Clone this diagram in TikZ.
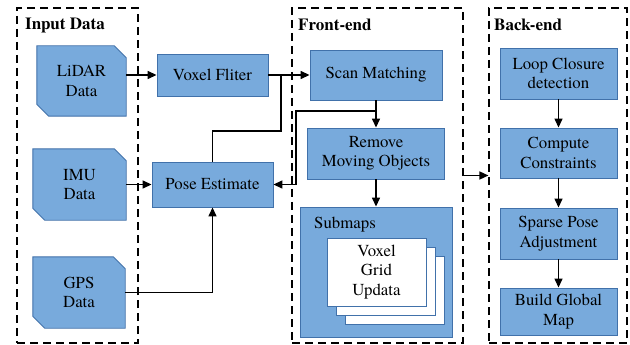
\documentclass[tikz,border=0pt]{standalone}
\usepackage{fontspec}
\setmainfont{texgyretermes}[Extension=.otf, UprightFont=*-regular, BoldFont=*-bold, ItalicFont=*-italic, BoldItalicFont=*-bolditalic]
\usetikzlibrary{arrows.meta}
\definecolor{boxfill}{RGB}{120,170,220}
\definecolor{boxline}{RGB}{65,113,170}
\begin{document}
\begin{tikzpicture}[x=1pt,y=-1pt,
  every node/.style={font=\fontsize{16.8}{19.5}\selectfont, align=center, inner sep=0pt},
  frame/.style={draw, dashed, dash pattern=on 8pt off 5pt, line width=1.1pt},
  bbox/.style={draw=boxline, fill=boxfill, line width=0.9pt},
  inbox/.style={},
  card/.style={draw=boxline, fill=white, line width=0.9pt, minimum width=99pt, minimum height=68pt},
  title/.style={anchor=west, font=\fontsize{17}{20}\selectfont\bfseries},
  conn/.style={line width=1.4pt},
  arr/.style={conn, -{Triangle[length=9pt,width=8pt]}}]
\useasboundingbox (0,0) rectangle (630,345);
\fill[white] (0,0) rectangle (630,345);
% frames
\node[frame, minimum width=121pt, minimum height=335pt] (fin) at (77.5,175.5) {};
\node[frame, minimum width=171pt, minimum height=335pt] (ffront) at (377.5,175.5) {};
\node[frame, minimum width=138pt, minimum height=335pt] (fback) at (558,175.5) {};
\node[title] (tin) at (25,25) {Input\ Data};
\node[title] (tfront) at (298,25) {Front-end};
\node[title] (tback) at (494,25) {Back-end};
% input data shapes
\node[inbox, minimum width=89pt, minimum height=70pt] (lidar) at (81.5,81) {};
\node[inbox, minimum width=93pt, minimum height=71pt] (imu) at (79.5,184.5) {};
\node[inbox, minimum width=92pt, minimum height=71pt] (gps) at (79,292.5) {};
\foreach \n in {lidar,imu,gps}{
  \draw[bbox] (\n.north west) -- ([xshift=-12pt]\n.north east) -- ([yshift=-12pt]\n.north east)
     -- (\n.south east) -- ([xshift=12pt]\n.south west) -- ([yshift=12pt]\n.south west) -- cycle;
}
\node at (lidar) {LiDAR\\Data};
\node at (imu) {IMU\\Data};
\node at (gps) {GPS\\Data};
% middle
\node[bbox, minimum width=111pt, minimum height=42pt] (voxel) at (212.5,75) {Voxel Fliter};
\node[bbox, minimum width=121pt, minimum height=45pt] (pose) at (212.5,184.5) {Pose Estimate};
% front-end
\node[bbox, minimum width=132pt, minimum height=50pt] (scan) at (376,75) {Scan Matching};
\node[bbox, minimum width=137pt, minimum height=51pt] (remove) at (376,153.5) {Remove\\Moving Objects};
\node[bbox, minimum width=152pt, minimum height=130pt] (sub) at (376,272) {};
\node[anchor=west] (sublabel) at (314,225) {Submaps};
\node[card] (c3) at (394.5,290) {};
\node[card] (c2) at (385.5,281) {};
\node[card] (c1) at (376.5,272) {Voxel\\Grid\\Updata};
% back-end
\node[bbox, minimum width=117pt, minimum height=51pt] (loop) at (558.5,73.5) {Loop Closure\\detection};
\node[bbox, minimum width=117pt, minimum height=50pt] (comp) at (558.5,153) {Compute\\Constraints};
\node[bbox, minimum width=117pt, minimum height=51pt] (sparse) at (558.5,233.5) {Sparse Pose\\Adjustment};
\node[bbox, minimum width=117pt, minimum height=47pt] (build) at (558.5,311.5) {Build Global\\Map};
% connectors
\draw[arr] (lidar.east |- voxel.west) -- (voxel.west);
\draw[arr] (imu.east) -- (pose.west);
\draw[arr] (gps.east) -| (pose.south);
\draw[arr] (voxel.east) -- (scan.west);
\coordinate (j1) at (281,75);
\coordinate (j2) at (281,131);
\draw[conn] (j1) -- (j2) -| (pose.north);
\draw[arr] (scan.south) -- (remove.north);
\coordinate (j3) at (376,111);
\coordinate (j4) at (296,111);
\draw[arr] (j3) -- (j4) |- (pose.east);
\draw[arr] (remove.south) -- (sub.north);
\draw[arr] (ffront.east) -- (fback.west);
\draw[arr] (loop.south) -- (comp.north);
\draw[arr] (comp.south) -- (sparse.north);
\draw[arr] (sparse.south) -- (build.north);
\end{tikzpicture}
\end{document}
